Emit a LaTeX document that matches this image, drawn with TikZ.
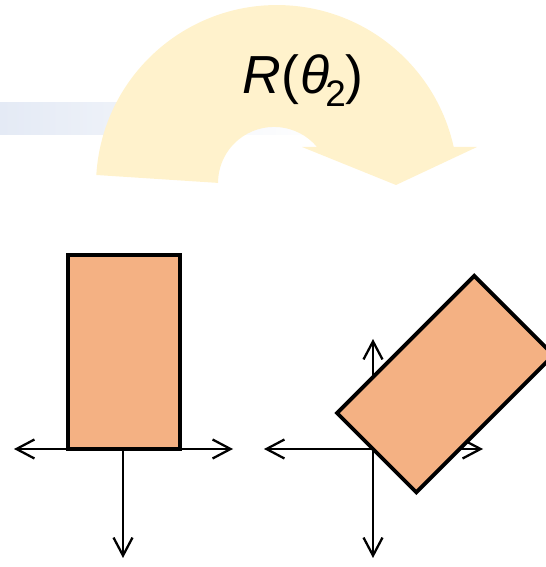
\documentclass[tikz,border=0pt]{standalone}
\usepackage{fontspec}
\setmainfont{Liberation Sans}
\usepackage{xcolor}
\usepackage{tikz}
\usetikzlibrary{arrows.meta, positioning}

\definecolor{boxorange}{HTML}{F4B183}
\definecolor{arcyellow}{HTML}{FFF2CC}
\definecolor{barblue}{HTML}{E4EAF5}

\begin{document}
\begin{tikzpicture}[x=0.02cm, y=0.02cm,
        block/.style={draw=black, fill=boxorange, line width=2.2pt},
        axis/.style={line width=1.3pt, draw=black,
                     arrows={Straight Barb[length=3.6mm, width=3.8mm]-Straight Barb[length=3.6mm, width=3.8mm]}},
        half/.style={line width=1.3pt, draw=black,
                     arrows={-Straight Barb[length=3.6mm, width=3.8mm]}},
        turn/.style={fill=arcyellow, draw=none}
    ]
    \useasboundingbox (0,0) rectangle (546,567);

    \fill[left color=barblue, right color=white] (0,432) rectangle (330,464);

    \fill[turn] (96.3,392) arc (176.5:12.5:181) -- (477,420) -- (396,382)
        -- (302,420) -- (317,420) arc (39.9:180:56) -- cycle;
    \node[anchor=base west, inner sep=0pt, font=\fontsize{30.5}{36}\selectfont]
        (rot) at (242,473) {\textit{R}(\kern1pt\textit{θ}\kern-2.5pt\raisebox{-0.26cm}{\fontsize{21}{24}\selectfont 2})};

    \coordinate (oL) at (123,118);
    \coordinate (wL) at (14,118);
    \coordinate (eL) at (233,118);
    \coordinate (sL) at (123,9);
    \draw[half] (oL) -- (sL);
    \draw[axis] (wL) -- (eL);
    \draw[block] (68,118) rectangle (180,312);

    \coordinate (oR) at (373,118);
    \coordinate (wR) at (264,118);
    \coordinate (eR) at (483,118);
    \coordinate (nR) at (373,228);
    \coordinate (sR) at (373,9);
    \draw[axis] (wR) -- (eR);
    \draw[axis] (nR) -- (sR);
    \draw[block, shift={(376,115)}, rotate=-45] (-55,0) rectangle (57,194);
\end{tikzpicture}
\end{document}
